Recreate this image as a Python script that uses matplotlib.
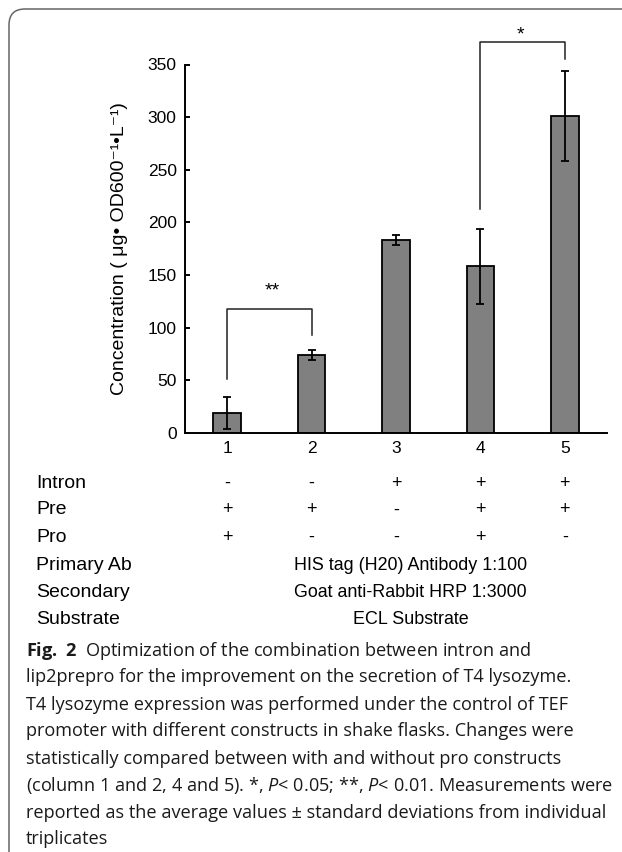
import matplotlib
matplotlib.use("Agg")
import matplotlib.pyplot as plt
from matplotlib.patches import FancyBboxPatch
from matplotlib.transforms import IdentityTransform, blended_transform_factory

plt.rcParams["font.family"] = ["Liberation Sans", "DejaVu Sans"]
plt.rcParams["mathtext.fontset"] = "custom"
plt.rcParams["mathtext.rm"] = "Open Sans"
plt.rcParams["mathtext.it"] = "Open Sans:italic"
plt.rcParams["mathtext.bf"] = "Open Sans:bold"

# data
columns = [1, 2, 3, 4, 5]
concentration = [18.5, 74, 183, 158, 301]
std_dev = [15, 5, 5, 36, 43]

row_labels = ["Intron", "Pre", "Pro", "Primary Ab", "Secondary", "Substrate"]
intron = ["-", "-", "+", "+", "+"]
pre = ["+", "+", "-", "+", "+"]
pro = ["+", "-", "-", "+", "-"]
shared_rows = ["HIS tag (H20) Antibody 1:100",
               "Goat anti-Rabbit HRP 1:3000",
               "ECL Substrate"]

# significance brackets: (x1, x2, leg1 bottom, leg2 bottom, top, mark, mark height)
brackets = [(1, 2, 51, 93, 117.5, "**", 135),
            (4, 5, 212.5, 355, 371.5, "*", 378)]

caption_lines = [
    r"$\mathbf{Fig.\ 2}$  Optimization of the combination between intron and",
    "lip2prepro for the improvement on the secretion of T4 lysozyme.",
    "T4 lysozyme expression was performed under the control of TEF",
    "promoter with different constructs in shake flasks. Changes were",
    "statistically compared between with and without pro constructs",
    r"(column 1 and 2, 4 and 5). *, $P$< 0.05; **, $P$< 0.01. Measurements were",
    "reported as the average values \u00b1 standard deviations from individual",
    "triplicates",
]

W, H = 622, 852
fig = plt.figure(figsize=(W / 100, H / 100), dpi=100)

# rounded frame round the whole figure
frame = FancyBboxPatch((9, -20), 660, H - 9 + 20,
                       boxstyle="round,pad=0,rounding_size=16",
                       transform=IdentityTransform(), facecolor="none",
                       edgecolor="#666666", linewidth=1.1)
fig.patches.append(frame)

ax = fig.add_axes([185 / W, 1 - 432.7 / H, (607 - 185) / W, (432.7 - 64.5) / H])
ax.bar(columns, concentration, width=0.325, color="#808080",
       edgecolor="black", linewidth=1.3, zorder=2)
ax.errorbar(columns, concentration, yerr=std_dev, fmt="none",
            ecolor="black", elinewidth=1.3, capsize=3.2, capthick=1.3, zorder=3)

for x1, x2, y1, y2, top, mark, mark_y in brackets:
    ax.plot([x1, x1, x2, x2], [y1, top, top, y2], color="#222222",
            linewidth=1.1, clip_on=False)
    ax.text((x1 + x2) / 2 + (0.03 if x1 == 1 else -0.03), mark_y, mark,
            ha="center", va="center", fontsize=14, clip_on=False)

ax.set_xlim(0.5, 5.5)
ax.set_ylim(0, 350)
ax.set_yticks(range(0, 351, 50))
ax.set_xticks(columns)
ax.spines["top"].set_visible(False)
ax.spines["right"].set_visible(False)
ax.spines["left"].set_linewidth(1.4)
ax.spines["bottom"].set_linewidth(1.4)
ax.tick_params(axis="y", direction="in", length=3.5, width=1.4,
               labelsize=12.5, pad=6)
ax.tick_params(axis="x", length=0, labelsize=12.5, pad=6)
ax.set_ylabel("Concentration ( \u03bcg\u2022 OD600\u207b\u00b9\u2022L\u207b\u00b9)",
              fontsize=14)
ax.yaxis.set_label_coords(-0.135, 0.5)

# table below the axis
row_y = [483, 510, 537.5, 565, 592.5, 620]
tr = blended_transform_factory(ax.transData, fig.transFigure)
for label, y in zip(row_labels, row_y):
    fig.text(36 / W, 1 - y / H, label, fontsize=14, ha="left", va="center")
for signs, y in zip([intron, pre, pro], row_y[:3]):
    for x, s in zip(columns, signs):
        ax.text(x, 1 - y / H, s, transform=tr, ha="center", va="center",
                fontsize=13, clip_on=False)
for txt, y in zip(shared_rows, row_y[3:]):
    ax.text(3.17, 1 - y / H, txt, transform=tr, ha="center", va="center",
            fontsize=12.9, clip_on=False)

# caption
base = 655.5
for i, line in enumerate(caption_lines):
    fig.text(26 / W, 1 - (base + i * 27.0) / H, line, fontsize=13.05,
             family="Open Sans", ha="left", va="baseline", color="#1a1a1a")

fig.savefig("out.png", dpi=100)
